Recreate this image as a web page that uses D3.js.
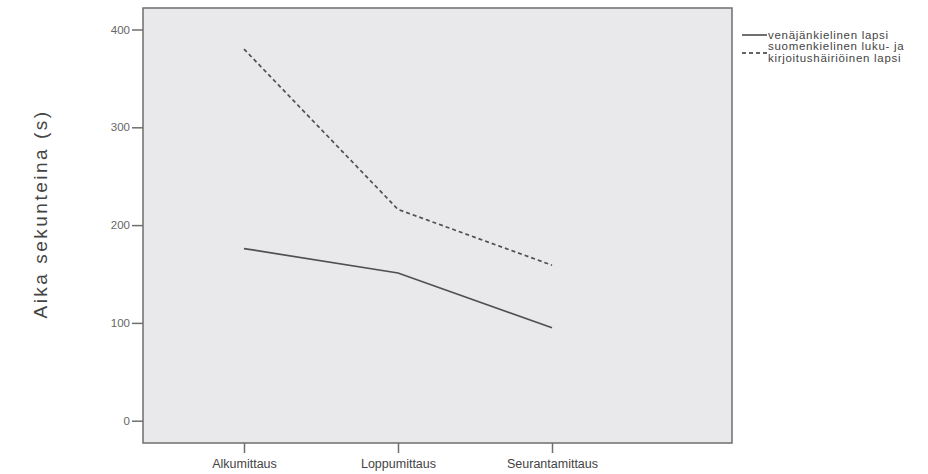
<!DOCTYPE html>
<html>
<head>
<meta charset="utf-8">
<script src="https://cdn.jsdelivr.net/npm/d3@7"></script>
<style>
html,body{margin:0;padding:0;background:#fff;}
text{font-family:"Liberation Sans",Arial,sans-serif;}
</style>
</head>
<body>
<svg id="chart" width="928" height="474"></svg>
<script>
const categories = ["Alkumittaus", "Loppumittaus", "Seurantamittaus"];
const russianChild = [176, 151, 95];
const finnishDyslexicChild = [380, 216, 159];
const yTicks = [0, 100, 200, 300, 400];
const seriesNames = ["venäjänkielinen lapsi", ["suomenkielinen luku- ja", "kirjoitushäiriöinen lapsi"]];
const yTitle = "Aika sekunteina (s)";

const svg = d3.select("#chart");
const frame = {left: 143, right: 732, top: 8, bottom: 443};

const x = d3.scalePoint().domain(categories).range([244, 552]);
const y = d3.scaleLinear().domain([0, 400]).range([420.7, 29.5]);

svg.append("rect")
  .attr("x", frame.left).attr("y", frame.top)
  .attr("width", frame.right - frame.left).attr("height", frame.bottom - frame.top)
  .attr("fill", "#e9e9eb").attr("stroke", "#6e6e6e").attr("stroke-width", 1.5);

// y axis
const yAxis = d3.axisLeft(y).tickValues(yTicks).tickSize(11).tickPadding(2).tickFormat(d3.format("d"));
const gy = svg.append("g").attr("transform", `translate(${frame.left},0)`).call(yAxis);
gy.select(".domain").remove();
gy.selectAll(".tick line").attr("stroke", "#6e6e6e").attr("stroke-width", 1.5);
gy.selectAll(".tick text").attr("fill", "#666").attr("font-size", 11.5);

// x axis
const xAxis = d3.axisBottom(x).tickSize(10).tickPadding(6);
const gx = svg.append("g").attr("transform", `translate(0,${frame.bottom})`).call(xAxis);
gx.select(".domain").remove();
gx.selectAll(".tick line").attr("stroke", "#6e6e6e").attr("stroke-width", 1.5);
gx.selectAll(".tick text").attr("fill", "#444").attr("font-size", 12.5);

// y title
svg.append("text")
  .attr("transform", "translate(47,214) rotate(-90)")
  .attr("text-anchor", "middle")
  .attr("fill", "#444").attr("font-size", 19)
  .attr("letter-spacing", 2.5)
  .text(yTitle);

const line = d3.line().x((d, i) => x(categories[i])).y(d => y(d));

svg.append("path").datum(russianChild)
  .attr("d", line).attr("fill", "none")
  .attr("stroke", "#505050").attr("stroke-width", 1.7);

svg.append("path").datum(finnishDyslexicChild)
  .attr("d", line).attr("fill", "none")
  .attr("stroke", "#505050").attr("stroke-width", 1.7)
  .attr("stroke-dasharray", "4,3");

// legend
const lg = svg.append("g");
lg.append("line").attr("x1", 742).attr("x2", 767).attr("y1", 35).attr("y2", 35)
  .attr("stroke", "#333").attr("stroke-width", 1.4);
lg.append("text").attr("x", 768).attr("y", 39).attr("font-size", 11.5).attr("letter-spacing", 0.7).attr("fill", "#444")
  .text(seriesNames[0]);
lg.append("line").attr("x1", 742).attr("x2", 767).attr("y1", 53).attr("y2", 53)
  .attr("stroke", "#333").attr("stroke-width", 1.4).attr("stroke-dasharray", "4,3");
lg.append("text").attr("x", 768).attr("y", 50).attr("font-size", 11.5).attr("letter-spacing", 0.7).attr("fill", "#444")
  .text(seriesNames[1][0]);
lg.append("text").attr("x", 768).attr("y", 62).attr("font-size", 11.5).attr("letter-spacing", 0.7).attr("fill", "#444")
  .text(seriesNames[1][1]);
</script>
</body>
</html>
